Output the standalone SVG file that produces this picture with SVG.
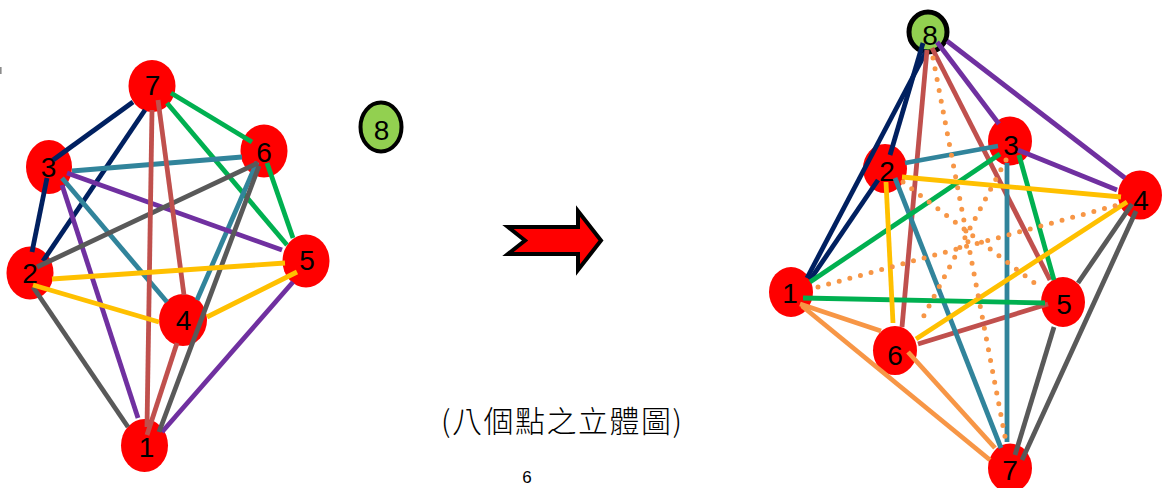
<svg xmlns="http://www.w3.org/2000/svg" width="1163" height="488" viewBox="0 0 1163 488">
  <style>
    .node { fill: #FF0000; }
    .eight { fill: #92D050; stroke: #000; }
    .lbl { font-family: "Liberation Sans", Arial, sans-serif; font-size: 28px; fill: #000; text-anchor: middle; }
    .e { fill: none; stroke-width: 4.8; stroke-linecap: butt; }
    .navy { stroke: #002060; }
    .green { stroke: #00B050; }
    .teal { stroke: #31849B; }
    .purple { stroke: #7030A0; }
    .gray { stroke: #595959; }
    .brown { stroke: #C0504D; }
    .yellow { stroke: #FFC000; }
    .orange { stroke: #F79646; }
    .dots { stroke: #F79646; stroke-width: 5; stroke-linecap: round; stroke-dasharray: 0 11; fill: none; }
    .caption { font-family: "Noto Sans CJK TC", "Noto Sans CJK SC", sans-serif; font-weight: 300; font-size: 30px; fill: #000; }
    .page { font-family: "Liberation Sans", Arial, sans-serif; font-size: 17px; fill: #000; text-anchor: middle; }
  </style>

  <rect width="1163" height="488" fill="#FFFFFF"/>

  <!-- small fragment at the left border -->
  <rect x="0" y="67" width="1.6" height="7" fill="#8C8C8C"/>

  <!-- seven-point graph (left) -->
  <g id="left-graph">
    <g id="L7"><ellipse class="node" cx="152" cy="86" rx="23.5" ry="26"/><text class="lbl" x="152.5" y="95">7</text></g>
    <g id="L6"><ellipse class="node" cx="264" cy="151" rx="23.5" ry="26.5"/><text class="lbl" x="264" y="162">6</text></g>
    <g id="L3"><ellipse class="node" cx="49" cy="167" rx="23" ry="27"/><text class="lbl" x="48.5" y="177">3</text></g>
    <g id="L2"><ellipse class="node" cx="30" cy="273" rx="23.5" ry="26.5"/><text class="lbl" x="30" y="283">2</text></g>
    <g id="L5"><ellipse class="node" cx="306" cy="261" rx="23.5" ry="26.5"/><text class="lbl" x="307" y="270">5</text></g>
    <g id="L4"><ellipse class="node" cx="183" cy="320" rx="24" ry="26"/><text class="lbl" x="183.5" y="330">4</text></g>
    <g id="L1"><ellipse class="node" cx="144.5" cy="445.5" rx="23.5" ry="26.5"/><text class="lbl" x="146.5" y="457">1</text></g>
  </g>

  <!-- the eighth point, still separate -->
  <g id="P8">
    <ellipse class="eight" cx="381" cy="127" rx="20.5" ry="24.5" stroke-width="4"/>
    <text class="lbl" x="381.5" y="140">8</text>
  </g>

  <!-- block arrow -->
  <g id="arrow">
    <path d="M508,227 L525,240.5 L508,254 L578,254 L578,270 L601,240.5 L578,211 L578,227 Z" fill="#FF0000" stroke="#000" stroke-width="4" stroke-linejoin="miter"/>
  </g>

  <!-- eight-point solid (right) -->
  <g id="right-graph">
    <g id="R8"><ellipse class="eight" cx="928" cy="32" rx="19" ry="20" stroke-width="5"/><text class="lbl" x="930" y="45">8</text></g>
    <g id="R3"><ellipse class="node" cx="1010" cy="141" rx="22" ry="24.5"/><text class="lbl" x="1011" y="155">3</text></g>
    <g id="R2"><ellipse class="node" cx="885" cy="168.5" rx="22" ry="24.5"/><text class="lbl" x="887" y="181">2</text></g>
    <g id="R4"><ellipse class="node" cx="1140" cy="195" rx="22" ry="24.5"/><text class="lbl" x="1141" y="210">4</text></g>
    <g id="R1"><ellipse class="node" cx="791" cy="292" rx="22" ry="25"/><text class="lbl" x="790" y="303">1</text></g>
    <g id="R5"><ellipse class="node" cx="1063" cy="302" rx="22" ry="25"/><text class="lbl" x="1064" y="314">5</text></g>
    <g id="R6"><ellipse class="node" cx="895" cy="350.5" rx="22" ry="24.5"/><text class="lbl" x="895" y="365">6</text></g>
    <g id="R7"><ellipse class="node" cx="1010" cy="468" rx="22" ry="24.5"/><text class="lbl" x="1010" y="480">7</text></g>
  </g>

  <!-- connectors: one colour per triangle -->
  <g id="connectors">
    <g id="left-edges">
      <line class="e navy" x1="133" y1="102" x2="53" y2="160"/>
      <line class="e navy" x1="145" y1="110" x2="43" y2="261"/>
      <line class="e navy" x1="47" y1="178" x2="32" y2="252"/>
      <line class="e green" x1="171" y1="93" x2="252" y2="142"/>
      <line class="e green" x1="167" y1="103" x2="287" y2="245"/>
      <line class="e green" x1="267" y1="163" x2="293" y2="238"/>
      <line class="e teal" x1="72" y1="171" x2="242" y2="157"/>
      <line class="e teal" x1="62" y1="178" x2="167" y2="302"/>
      <line class="e teal" x1="257" y1="162" x2="197" y2="300"/>
      <line class="e purple" x1="67" y1="173" x2="282" y2="250"/>
      <line class="e purple" x1="62" y1="185" x2="138" y2="418"/>
      <line class="e purple" x1="293" y1="282" x2="162" y2="432"/>
      <line class="e gray" x1="37" y1="267" x2="258" y2="163"/>
      <line class="e gray" x1="33" y1="287" x2="128" y2="427"/>
      <line class="e gray" x1="259" y1="166" x2="159" y2="432"/>
      <line class="e brown" x1="152" y1="110" x2="147" y2="427"/>
      <line class="e brown" x1="158" y1="100" x2="184" y2="295"/>
      <line class="e brown" x1="177" y1="343" x2="147" y2="435"/>
      <line class="e yellow" x1="52" y1="279" x2="285" y2="263"/>
      <line class="e yellow" x1="33" y1="285" x2="159" y2="322"/>
      <line class="e yellow" x1="207" y1="317" x2="297" y2="272"/>
    </g>
    <g id="right-edges">
      <line class="e navy" x1="923" y1="43" x2="890" y2="155"/>
      <line class="e navy" x1="927" y1="50" x2="807" y2="278"/>
      <line class="e navy" x1="878" y1="180" x2="810" y2="280"/>
      <line class="e purple" x1="937" y1="42" x2="999" y2="124"/>
      <line class="e purple" x1="947" y1="41" x2="1125" y2="178"/>
      <line class="e purple" x1="1018" y1="150" x2="1117" y2="190"/>
      <line class="e brown" x1="927" y1="50" x2="902" y2="327"/>
      <line class="e brown" x1="932" y1="48" x2="1050" y2="280"/>
      <line class="e brown" x1="918" y1="344" x2="1048" y2="304"/>
      <line class="e teal" x1="905" y1="163" x2="998" y2="146"/>
      <line class="e teal" x1="895" y1="178" x2="1001" y2="448"/>
      <line class="e teal" x1="1007" y1="163" x2="1007" y2="442"/>
      <line class="e green" x1="1000" y1="154" x2="810" y2="282"/>
      <line class="e green" x1="1019" y1="155" x2="1054" y2="280"/>
      <line class="e green" x1="803" y1="298" x2="1045" y2="303"/>
      <line class="e yellow" x1="902" y1="177" x2="1121" y2="197"/>
      <line class="e yellow" x1="886" y1="182" x2="893" y2="323"/>
      <line class="e yellow" x1="916" y1="339" x2="1127" y2="202"/>
      <line class="e gray" x1="1132" y1="204" x2="1078" y2="283"/>
      <line class="e gray" x1="1136" y1="211" x2="1022" y2="460"/>
      <line class="e gray" x1="1054" y1="327" x2="1015" y2="455"/>
      <line class="e orange" x1="800" y1="304" x2="881" y2="331"/>
      <line class="e orange" x1="802" y1="306" x2="990" y2="460"/>
      <line class="e orange" x1="908" y1="352" x2="995" y2="448"/>
      <!-- dotted diagonals through the interior -->
      <line class="dots" x1="933" y1="58" x2="1007" y2="447"/>
      <line class="dots" x1="903" y1="182" x2="1037" y2="285"/>
      <line class="dots" x1="818" y1="287" x2="1125" y2="203"/>
      <line class="dots" x1="1006" y1="160" x2="919" y2="325"/>
    </g>
  </g>

  <text class="caption" x="441" y="432" textLength="241" lengthAdjust="spacing">(八個點之立體圖)</text>
  <text class="page" x="527" y="483">6</text>
</svg>
